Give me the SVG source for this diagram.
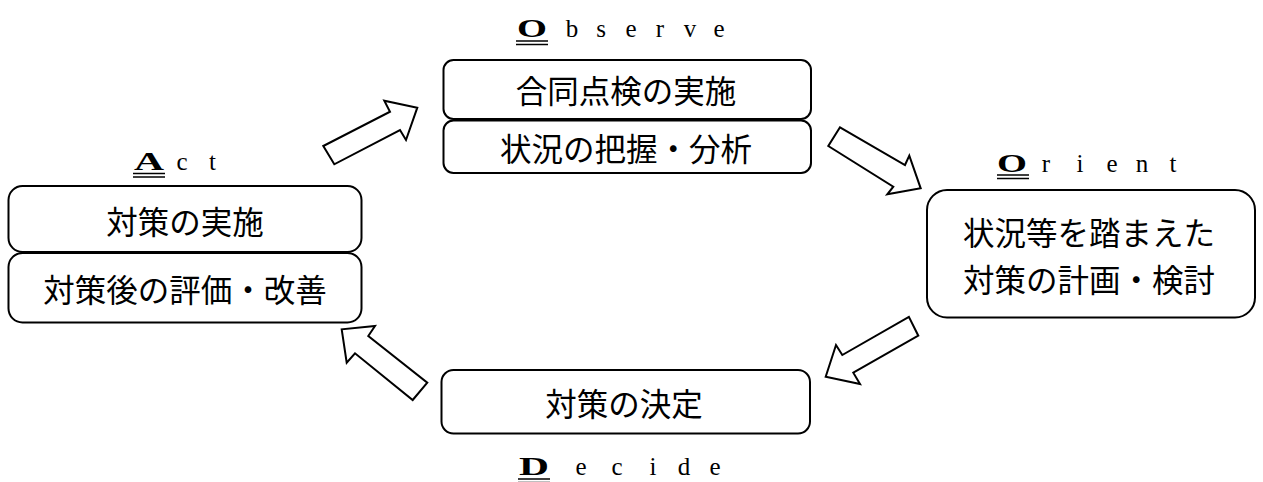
<svg xmlns="http://www.w3.org/2000/svg" width="1263" height="482" viewBox="0 0 1263 482">
<style>
.box{fill:#fff;stroke:#000;stroke-width:2}
.jp{font-family:"Noto Sans CJK JP","Noto Sans",sans-serif;font-size:31.5px;fill:#000;text-anchor:middle;dominant-baseline:central}
.cap{font-family:"Liberation Serif",serif;font-weight:bold;font-size:26px;fill:#000}
.lc{font-family:"Liberation Serif",serif;font-size:25px;fill:#000;text-anchor:middle}
.ul{stroke:#000;stroke-width:1.5;fill:none}
.arr{fill:#fff;stroke:#000;stroke-width:2;stroke-linejoin:miter}
</style>
<rect width="1263" height="482" fill="#fff"/>

<g id="observe">
<text class="cap" x="517" y="37" textLength="30" lengthAdjust="spacingAndGlyphs">O</text>
<text class="lc" y="37"><tspan x="572">b</tspan><tspan x="601">s</tspan><tspan x="631">e</tspan><tspan x="660">r</tspan><tspan x="690">v</tspan><tspan x="719">e</tspan></text>
<path class="ul" d="M516 41H548M516 44.5H548"/>
<rect class="box" x="443.5" y="60" width="367.5" height="59" rx="10"/>
<text class="jp" x="626" y="89">合同点検の実施</text>
<rect class="box" x="443.5" y="120.5" width="367.5" height="52.5" rx="10"/>
<text class="jp" x="626" y="147">状況の把握・分析</text>
</g>

<g id="orient">
<text class="cap" x="997" y="171.5" textLength="30" lengthAdjust="spacingAndGlyphs">O</text>
<text class="lc" y="171.5"><tspan x="1046">r</tspan><tspan x="1080">i</tspan><tspan x="1112">e</tspan><tspan x="1142">n</tspan><tspan x="1173">t</tspan></text>
<path class="ul" d="M997 175H1029M997 178.5H1029"/>
<rect class="box" x="927" y="190" width="328" height="127.5" rx="20"/>
<text class="jp" x="1089" y="231">状況等を踏まえた</text>
<text class="jp" x="1089" y="278">対策の計画・検討</text>
</g>

<g id="decide">
<rect class="box" x="441.5" y="370" width="368.5" height="63.5" rx="12"/>
<text class="jp" x="624" y="402">対策の決定</text>
<text class="cap" x="519" y="475" textLength="30" lengthAdjust="spacingAndGlyphs">D</text>
<text class="lc" y="475"><tspan x="581">e</tspan><tspan x="617">c</tspan><tspan x="653">i</tspan><tspan x="684">d</tspan><tspan x="715">e</tspan></text>
<path class="ul" d="M518 479H550M518 482.5H550"/>
</g>

<g id="act">
<text class="cap" x="134" y="170" textLength="30" lengthAdjust="spacingAndGlyphs">A</text>
<text class="lc" y="170"><tspan x="182">c</tspan><tspan x="212.5">t</tspan></text>
<path class="ul" d="M133 173.5H165M133 177H165"/>
<rect class="box" x="8.5" y="186" width="353" height="66" rx="14"/>
<text class="jp" x="185" y="220">対策の実施</text>
<rect class="box" x="8.5" y="253" width="353" height="69.5" rx="14"/>
<text class="jp" x="185" y="288">対策後の評価・改善</text>
</g>

<g id="connectors">
<polygon class="arr" points="323.3,146 334.3,164.3 400,130 406,140 417.3,107.7 384.3,100.7 390,111.7"/>
<polygon class="arr" points="840,127.3 828.3,146 893.3,186.7 887.3,194.3 920.7,188.3 909.3,155.7 905,165"/>
<polygon class="arr" points="908.9,316.9 918.3,335.7 853.3,372.7 860,384 825.7,376.7 836,345 842.3,355"/>
<polygon class="arr" points="427.3,382.7 412.7,400 355,353.3 346.7,362.7 341.7,329.3 375,326 368.3,336"/>
</g>
</svg>
